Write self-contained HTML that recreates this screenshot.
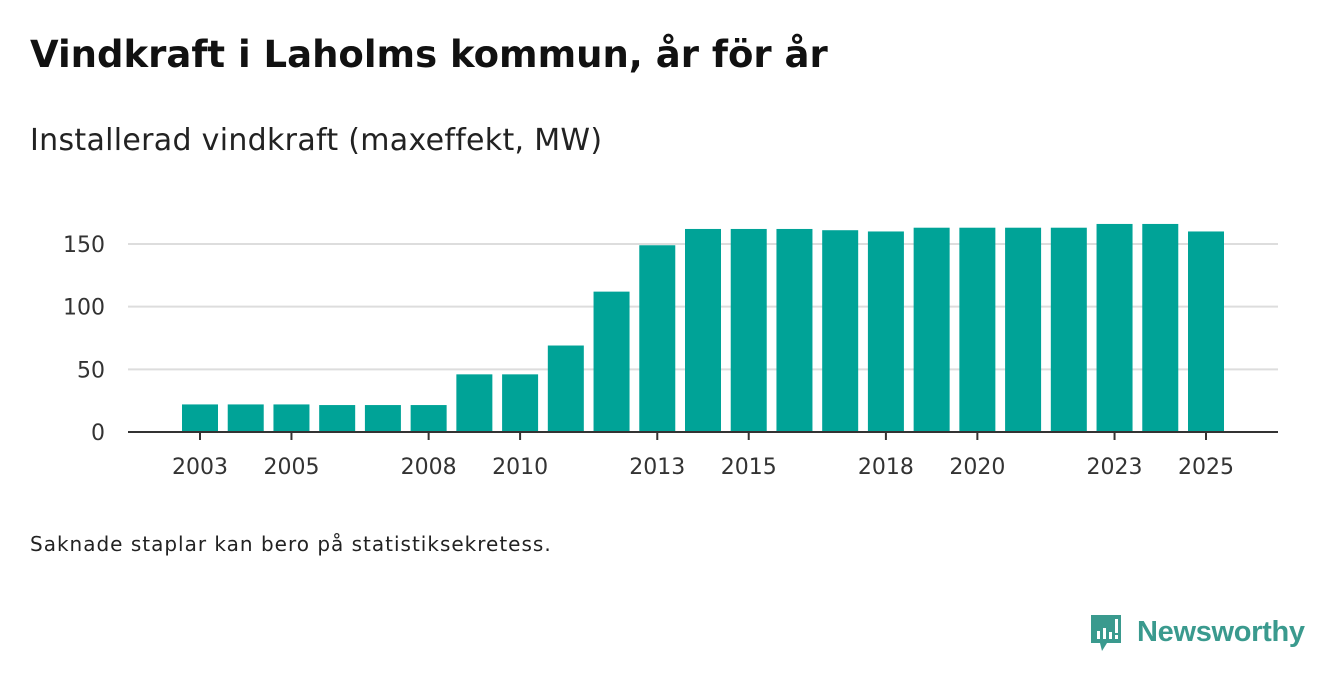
<!DOCTYPE html>
<html><head><meta charset="utf-8"><style>
body{margin:0;width:1340px;height:685px;background:#fff;font-family:"DejaVu Sans","Liberation Sans",sans-serif;overflow:hidden;position:relative}
.t{position:absolute;margin:0;white-space:nowrap}
</style></head><body>
<h1 class="t" style="left:30px;top:33px;font-size:37px;font-weight:bold;color:#111">Vindkraft i Laholms kommun, år för år</h1>
<div class="t" style="left:30px;top:123px;font-size:30px;letter-spacing:0.3px;color:#222">Installerad vindkraft (maxeffekt, MW)</div>
<svg id="chart" width="1340" height="685" style="position:absolute;left:0;top:0;font-family:'DejaVu Sans',sans-serif"></svg>
<div class="t" style="left:30px;top:532px;font-size:20px;letter-spacing:1px;color:#222">Saknade staplar kan bero på statistiksekretess.</div>
<div class="t" style="left:1089px;top:611px">
<svg width="230" height="46"><path d="M2 4h30v28H18l-5 8-2-8H2z" fill="#3a9a8e"/><rect x="8" y="20" width="3" height="8" fill="#fff"/><rect x="14" y="17" width="3" height="11" fill="#fff"/><rect x="20" y="21" width="3" height="7" fill="#fff"/><rect x="26" y="8" width="3" height="14" fill="#fff"/><rect x="26" y="24" width="3" height="4" fill="#fff"/>
<text x="48" y="30" font-size="29" font-weight="bold" fill="#3a9a8e" textLength="168" font-family="Liberation Sans, sans-serif">Newsworthy</text></svg></div>
<script>
const years=[2003,2004,2005,2006,2007,2008,2009,2010,2011,2012,2013,2014,2015,2016,2017,2018,2019,2020,2021,2022,2023,2024,2025];
const values=[22,22,22,21.5,21.5,21.5,46,46,69,112,149,162,162,162,161,160,163,163,163,163,166,166,160];
const yTicks=[0,50,100,150];
const xLabels=[2003,2005,2008,2010,2013,2015,2018,2020,2023,2025];
const svg=document.getElementById('chart');const NS='http://www.w3.org/2000/svg';
const y=v=>432-v*188/150;
const x=yr=>200+(yr-2003)*(1006/22);
function mk(tag,a){const e=document.createElementNS(NS,tag);for(const k in a)e.setAttribute(k,a[k]);svg.appendChild(e);return e;}
yTicks.forEach(t=>{
 if(t>0){const g=mk('line',{x1:128,x2:1278,y1:y(t),y2:y(t),stroke:'#ddd','stroke-width':2});
 
 }
 const l=mk('text',{x:105,y:y(t)+8,'text-anchor':'end','font-size':22,fill:'#333'});l.textContent=t;
 
 
});
years.forEach((yr,i)=>{
 const b=mk('rect',{x:x(yr)-18,y:y(values[i]),width:36,height:432-y(values[i]),fill:'#00a397'});
 
 
});
const ax=mk('line',{x1:128,x2:1278,y1:432,y2:432,stroke:'#333','stroke-width':2});


xLabels.forEach(yr=>{
 const tk=mk('line',{x1:x(yr),x2:x(yr),y1:432,y2:440,stroke:'#333','stroke-width':2});
 
 
 const l=mk('text',{x:x(yr),y:474,'text-anchor':'middle','font-size':22,fill:'#333'});l.textContent=yr;
 
 
});
</script>
</body></html>
